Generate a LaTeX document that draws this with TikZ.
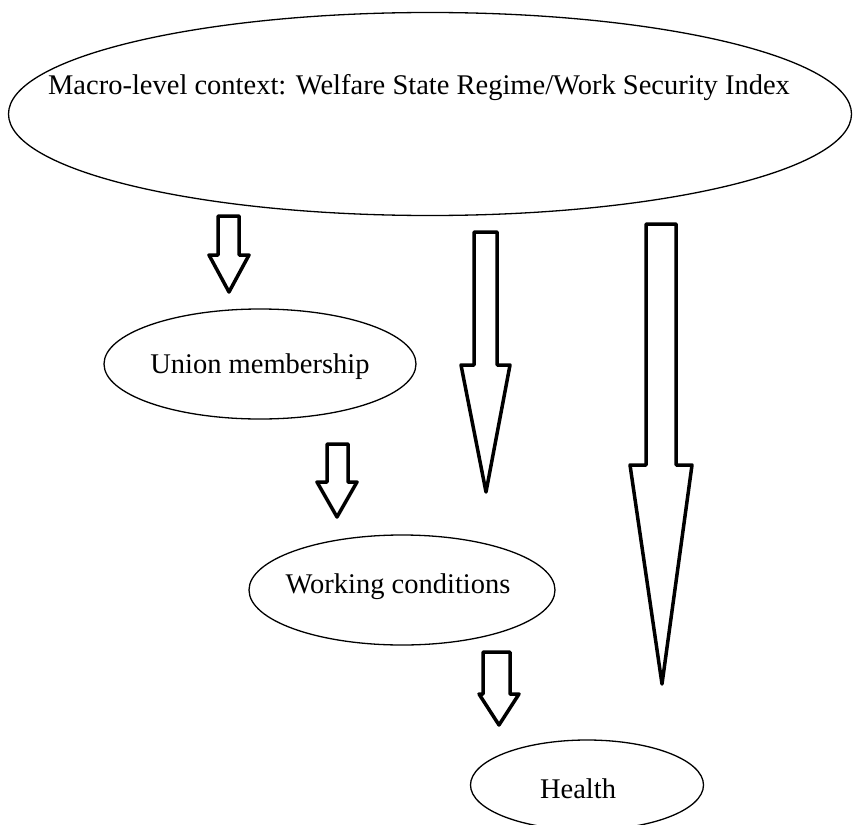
\documentclass[tikz,border=0pt]{standalone}
\usepackage{fontspec}
\setmainfont{Liberation Serif}
\usetikzlibrary{shapes.geometric}
\newcommand\blockarrow[8]{%
  \draw[blk] (#1,#3) -- (#2,#3) -- (#2,#4) -- (#6,#4) -- (#7,#8) -- (#5,#4) -- (#1,#4) -- cycle;}
\begin{document}
\begin{tikzpicture}[x=1pt,y=-1pt,
  ell/.style={draw, ellipse, line width=1.3pt, inner sep=0pt},
  lbl/.style={font=\fontsize{28.5}{34}\selectfont, inner sep=0pt},
  blk/.style={draw, line width=3.5pt, line join=round}]
\useasboundingbox (0,0) rectangle (853,824);
\fill[white] (0,0) rectangle (853,824);
\clip (0,0) rectangle (853,824);
% ellipses
\node[ell, minimum width=843pt, minimum height=203pt] (macro) at (430,114) {};
\node[lbl] (macrotext) at (419,88) {Macro-level context: Welfare State Regime/Work Security Index};
\node[ell, minimum width=312pt, minimum height=110pt] (union) at (260,364) {};
\node[lbl] (uniontext) at (260,367) {Union membership};
\node[ell, minimum width=306pt, minimum height=110pt] (work) at (402,590) {};
\node[lbl] (worktext) at (398,587) {Working conditions};
\node[ell, minimum width=233pt, minimum height=90pt] (health) at (587,785) {};
\node[lbl] (healthtext) at (578,789) {Health};
% block arrows
\blockarrow{218}{239}{216}{255}{209}{249}{229}{292}
\blockarrow{474}{497}{232}{365}{461}{510}{486}{492}
\blockarrow{646}{676}{224}{465}{630}{692}{662}{684}
\blockarrow{327}{348}{444}{482}{317}{357}{337}{517}
\blockarrow{483}{510}{652}{694}{479}{519}{499}{725}
\end{tikzpicture}
\end{document}
